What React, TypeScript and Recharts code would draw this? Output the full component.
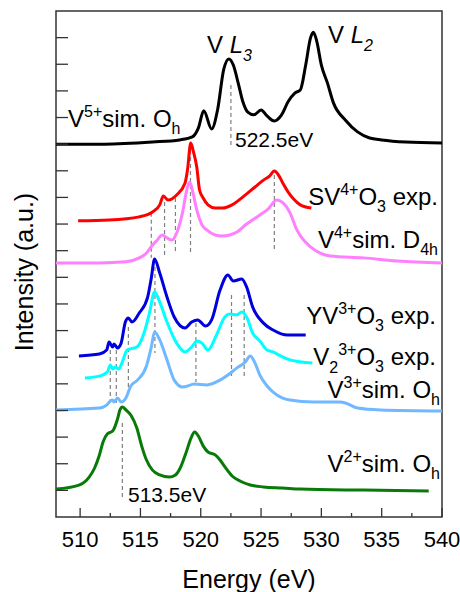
import React from "react";
import { LineChart, Line, XAxis, YAxis, ReferenceLine, ReferenceArea } from "recharts";

const FONT = '"Liberation Sans", Arial, Helvetica, sans-serif';

// energy axis ticks (eV); every 5 eV labelled, half steps are minor
const xTicks = [510, 512.5, 515, 517.5, 520, 522.5, 525, 527.5, 530, 532.5, 535, 537.5, 540];
// stacked offset axis, unlabeled ticks
const yTicks = [1, 2, 3, 4, 5, 6, 7, 8, 9, 10, 11, 12, 13, 14, 15, 16, 17, 18];

// V5+ sim. Oh (black)
const v5E = [508, 512, 516, 518.25, 519.3, 519.8, 520.25, 520.9, 521.4, 521.9, 522.33, 522.7, 523.1, 523.5, 523.9, 524.4, 525.0, 525.5, 526.1, 526.7, 527.25, 527.8, 528.25, 528.7, 529.1, 529.33, 529.6, 530, 530.5, 531, 532, 533, 534, 535, 537, 540];
const v5I = [14.0, 14.0, 14.08, 14.16, 14.27, 14.6, 15.25, 14.57, 15.3, 16.8, 17.2, 16.97, 16.3, 15.58, 15.2, 15.1, 15.28, 15.06, 14.87, 15.1, 15.6, 15.92, 16.03, 16.97, 17.99, 18.2, 17.9, 16.97, 16.3, 15.55, 14.9, 14.46, 14.23, 14.16, 14.08, 14.04];

// SV4+O3 exp. (red)
const sv4E = [509.83, 512.4, 514.9, 516.0, 516.6, 516.9, 517.3, 518.0, 518.7, 518.9, 519.17, 519.4, 519.67, 519.9, 520.2, 520.6, 521.2, 521.8, 522.6, 523.5, 524.5, 525.2, 525.7, 526.1, 526.5, 526.8, 527.25, 527.7, 528.25, 529.17];
const sv4I = [11.12, 11.15, 11.27, 11.45, 11.72, 12.05, 11.9, 12.09, 12.54, 13.03, 14.04, 13.7, 13.14, 12.28, 11.98, 11.72, 11.6, 11.6, 11.72, 12.02, 12.39, 12.65, 12.8, 12.99, 12.8, 12.54, 12.2, 11.94, 11.72, 11.6];

// V4+ sim. D4h (pink)
const v4E = [508, 511.6, 513.8, 514.9, 515.5, 516.0, 516.4, 516.8, 517.2, 517.6, 518.1, 518.5, 518.8, 519.08, 519.3, 519.67, 520.1, 520.5, 521.2, 521.75, 522.4, 523.0, 523.8, 524.9, 525.6, 526.3, 526.8, 527.4, 527.97, 529.1, 529.9, 530.75, 533.5, 536.3, 540];
const v4I = [9.54, 9.54, 9.58, 9.73, 9.91, 10.21, 10.4, 10.59, 10.48, 10.4, 10.78, 11.45, 12.2, 12.58, 12.28, 11.53, 10.97, 10.78, 10.59, 10.55, 10.59, 10.7, 11.0, 11.34, 11.57, 11.9, 11.8, 11.42, 10.78, 10.14, 9.91, 9.8, 9.73, 9.61, 9.54];

// YV3+O3 exp. (blue)
const yv3E = [509.9, 511.6, 512.2, 512.4, 512.7, 512.8, 513.1, 513.4, 513.75, 514.0, 514.3, 514.9, 515.6, 515.9, 516.17, 516.6, 517.2, 517.8, 518.7, 519.25, 519.75, 520.4, 520.9, 521.6, 522.25, 522.7, 523.4, 523.8, 524.3, 525.2, 526.0, 527.2, 528.7];
const yv3I = [6.05, 6.12, 6.27, 6.57, 6.38, 6.5, 6.35, 6.53, 7.32, 7.47, 7.32, 7.66, 8.26, 8.97, 9.69, 9.16, 8.26, 7.51, 7.1, 7.32, 7.4, 7.17, 7.4, 8.52, 9.09, 8.86, 8.94, 8.64, 7.89, 7.28, 7.02, 6.83, 6.83];

// V2 3+O3 exp. (cyan)
const v2o3E = [510.4, 511.6, 512.25, 512.5, 512.7, 512.9, 513.2, 513.5, 513.9, 514.7, 515.3, 515.75, 516.17, 516.6, 517.2, 518.0, 518.7, 519.25, 519.7, 520.1, 520.6, 521.3, 522.0, 522.4, 523.0, 523.4, 523.8, 524.3, 524.9, 525.5, 526.0, 526.6, 527.4, 529.25];
const v2o3I = [5.22, 5.29, 5.44, 5.71, 5.56, 5.63, 5.56, 5.82, 6.27, 6.38, 6.91, 7.66, 8.45, 8.07, 7.32, 6.53, 6.2, 6.38, 6.61, 6.53, 6.27, 6.83, 7.51, 7.62, 7.59, 7.7, 7.51, 6.91, 6.61, 6.27, 6.2, 6.05, 5.9, 5.78];

// V3+ sim. Oh (light blue)
const v3E = [508, 511.6, 512.2, 512.5, 512.7, 512.8, 513.1, 513.4, 513.8, 514.2, 514.75, 515.5, 515.9, 516.17, 516.6, 517.2, 517.8, 518.5, 519.5, 520.5, 521.6, 522.25, 523.0, 523.7, 524.1, 524.5, 524.9, 525.5, 526.0, 526.75, 527.4, 529.3, 531.6, 532.0, 533.0, 534.9, 540];
const v3I = [4.02, 4.09, 4.2, 4.36, 4.39, 4.32, 4.47, 4.32, 4.47, 4.92, 5.14, 5.67, 6.38, 6.95, 6.65, 5.9, 5.14, 4.88, 4.99, 4.96, 5.14, 5.33, 5.6, 5.82, 6.05, 5.78, 5.33, 4.92, 4.69, 4.47, 4.39, 4.32, 4.32, 4.28, 4.09, 4.02, 3.98];

// V2+ sim. Oh (green)
const v2E = [508, 509.9, 510.75, 511.2, 511.6, 511.9, 512.25, 512.7, 513.1, 513.3, 513.5, 513.8, 514.2, 514.7, 515.1, 515.5, 516.0, 516.6, 517.4, 517.9, 518.3, 518.8, 519.2, 519.5, 519.8, 520.2, 520.6, 521.2, 521.6, 522.0, 522.6, 523.25, 524.1, 525.2, 526.8, 528.25, 533.5, 538.9];
const v2I = [1.05, 1.2, 1.5, 1.84, 2.33, 2.82, 3.12, 3.23, 3.68, 4.02, 4.13, 4.02, 3.83, 3.34, 2.67, 2.14, 1.76, 1.58, 1.5, 1.58, 1.84, 2.44, 2.97, 3.19, 3.04, 2.67, 2.44, 2.33, 2.14, 1.88, 1.54, 1.35, 1.2, 1.13, 1.09, 1.05, 1.01, 0.98];

// dashed guide lines: energy, top, bottom
const dashE = [515.9, 517.0, 517.9, 519.15, 526.1, 522.5, 512.5, 513.0, 514.0, 516.2, 519.6, 522.55, 523.6, 513.5];
const dashTop = [11.42, 11.83, 11.98, 13.78, 12.84, 16.22, 6.27, 6.27, 7.13, 9.39, 7.28, 8.34, 8.34, 3.53];
const dashBot = [9.73, 9.73, 9.91, 9.95, 9.95, 13.97, 4.2, 4.2, 4.58, 6.16, 5.07, 5.22, 5.22, 0.64];

const pts = (e: number[], v: number[]) => e.map((x, i) => ({ x, y: v[i] }));

const series = [
    { key: "v5", data: pts(v5E, v5I), color: "#000000" },
    { key: "sv4", data: pts(sv4E, sv4I), color: "#ff0000" },
    { key: "v4", data: pts(v4E, v4I), color: "#ff80ff" },
    { key: "yv3", data: pts(yv3E, yv3I), color: "#0000dd" },
    { key: "v2o3", data: pts(v2o3E, v2o3I), color: "#00ffff" },
    { key: "v3", data: pts(v3E, v3I), color: "#70b8ff" },
    { key: "v2", data: pts(v2E, v2I), color: "#087a08" },
];

const AXIS = "#333";

const XTick = ({ x, y, payload }: any) => {
    const major = payload.value % 5 === 0;
    return (
        <g>
            <line x1={x} x2={x} y1={y} y2={y - (major ? 9 : 4)} stroke={AXIS} strokeWidth={1.3} />
            {major && (
                <text x={x} y={y + 30} textAnchor="middle" fontSize={22} fontFamily={FONT} fill="#000">
                    {payload.value}
                </text>
            )}
        </g>
    );
};

const YTick = ({ x, y }: any) => (
    <line x1={x} x2={x + 12} y1={y} y2={y} stroke={AXIS} strokeWidth={1.3} />
);

const renderXTick = (p: any) => <XTick {...p} />;
const renderYTick = (p: any) => <YTick {...p} />;

const SUP = 16;

export default function App() {
    return (
        <div style={{ position: "absolute", left: 0, top: 0, width: 460, height: 592, background: "#fff" }}>
            <LineChart width={460} height={592} margin={{ top: 11, right: 18, left: 0, bottom: 0 }}>
                <XAxis
                    type="number"
                    dataKey="x"
                    domain={[508, 540]}
                    ticks={xTicks}
                    interval={0}
                    height={75}
                    tickSize={0}
                    tickMargin={0}
                    axisLine={false}
                    tickLine={false}
                    tick={renderXTick}
                    allowDuplicatedCategory={false}
                />
                <YAxis
                    type="number"
                    domain={[0, 19]}
                    ticks={yTicks}
                    interval={0}
                    width={56}
                    tickSize={0}
                    tickMargin={0}
                    axisLine={false}
                    tickLine={false}
                    tick={renderYTick}
                />
                <ReferenceArea x1={508} x2={540} y1={0} y2={19} fill="none" stroke={AXIS} strokeWidth={1.5} fillOpacity={0} />
                {dashE.map((e, i) => (
                    <ReferenceLine
                        key={"d" + i}
                        segment={[{ x: e, y: dashTop[i] }, { x: e, y: dashBot[i] }]}
                        stroke="#808080"
                        strokeWidth={1.2}
                        strokeDasharray="4 3"
                    />
                ))}
                {series.map((s) => (
                    <Line
                        key={s.key}
                        data={s.data}
                        dataKey="y"
                        type="monotone"
                        stroke={s.color}
                        strokeWidth={3}
                        dot={false}
                        activeDot={false}
                        isAnimationActive={false}
                    />
                ))}
            </LineChart>
            <svg
                width={460}
                height={592}
                style={{ position: "absolute", left: 0, top: 0, pointerEvents: "none" }}
                fontFamily={FONT}
                fill="#000"
            >
                <text x={68} y={127} fontSize={24}>
                    V<tspan fontSize={SUP} dy={-10}>5+</tspan>
                    <tspan dy={10}>sim. O</tspan>
                    <tspan fontSize={SUP} dy={7}>h</tspan>
                </text>
                <text x={207} y={53} fontSize={24}>
                    V <tspan fontStyle="italic">L</tspan>
                    <tspan fontSize={SUP} fontStyle="italic" dy={8}>3</tspan>
                </text>
                <text x={328} y={43} fontSize={24}>
                    V <tspan fontStyle="italic">L</tspan>
                    <tspan fontSize={SUP} fontStyle="italic" dy={8}>2</tspan>
                </text>
                <text x={235} y={147} fontSize={21}>522.5eV</text>
                <text x={128} y={502} fontSize={21}>513.5eV</text>

                <text x={438} y={205} fontSize={24} textAnchor="end">
                    SV<tspan fontSize={SUP} dy={-10}>4+</tspan>
                    <tspan dy={10}>O</tspan>
                    <tspan fontSize={SUP} dy={7}>3</tspan>
                    <tspan dy={-7}> exp.</tspan>
                </text>
                <text x={438} y={248} fontSize={24} textAnchor="end">
                    V<tspan fontSize={SUP} dy={-10}>4+</tspan>
                    <tspan dy={10}>sim. D</tspan>
                    <tspan fontSize={SUP} dy={7}>4h</tspan>
                </text>
                <text x={436} y={324} fontSize={24} textAnchor="end">
                    YV<tspan fontSize={SUP} dy={-10}>3+</tspan>
                    <tspan dy={10}>O</tspan>
                    <tspan fontSize={SUP} dy={7}>3</tspan>
                    <tspan dy={-7}> exp.</tspan>
                </text>
                <text x={436} y={365} fontSize={24} textAnchor="end">
                    V<tspan fontSize={SUP} dy={8}>2</tspan>
                    <tspan fontSize={SUP} dy={-18}>3+</tspan>
                    <tspan dy={10}>O</tspan>
                    <tspan fontSize={SUP} dy={7}>3</tspan>
                    <tspan dy={-7}> exp.</tspan>
                </text>
                <text x={440} y={398} fontSize={24} textAnchor="end">
                    V<tspan fontSize={SUP} dy={-10}>3+</tspan>
                    <tspan dy={10}>sim. O</tspan>
                    <tspan fontSize={SUP} dy={7}>h</tspan>
                </text>
                <text x={440} y={472} fontSize={24} textAnchor="end">
                    V<tspan fontSize={SUP} dy={-10}>2+</tspan>
                    <tspan dy={10}>sim. O</tspan>
                    <tspan fontSize={SUP} dy={7}>h</tspan>
                </text>

                <text x={249} y={588} fontSize={25} textAnchor="middle">Energy (eV)</text>
                <text transform="translate(33,272) rotate(-90)" fontSize={25} textAnchor="middle">
                    Intensity (a.u.)
                </text>
            </svg>
        </div>
    );
}
